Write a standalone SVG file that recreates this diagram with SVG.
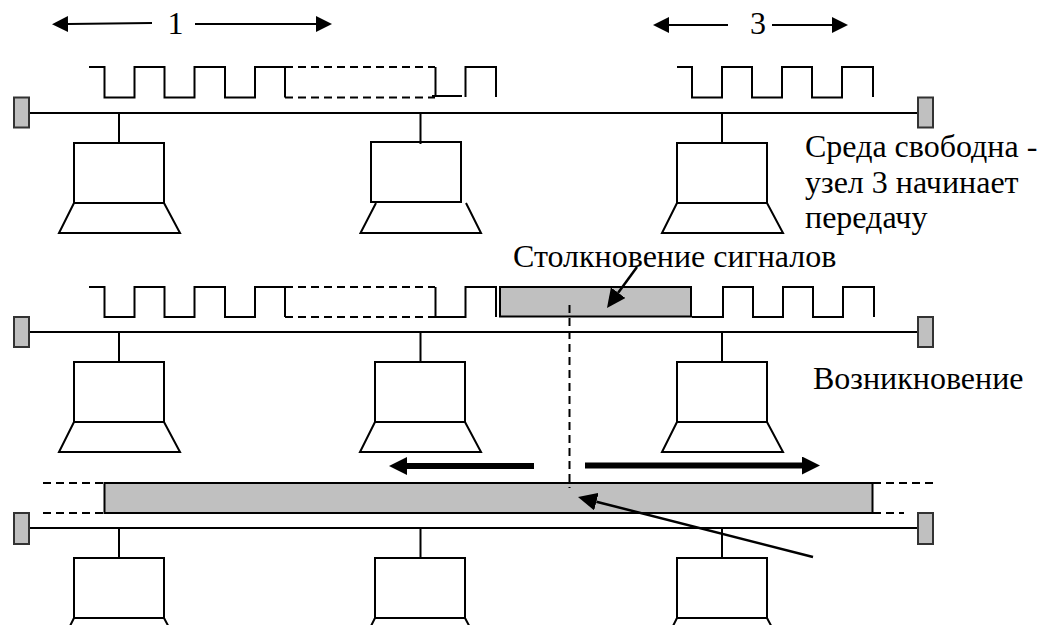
<svg xmlns="http://www.w3.org/2000/svg" width="1043" height="625" viewBox="0 0 1043 625">
<style>
.l{fill:none;stroke:#000;stroke-width:2}
.p{fill:none;stroke:#000;stroke-width:2.500}
.d{fill:none;stroke:#000;stroke-width:2;stroke-dasharray:8 5}
.n{fill:#fff;stroke:#000;stroke-width:2}
.t{fill:#c0c0c0;stroke:#333;stroke-width:2}
.g{fill:#c0c0c0;stroke:#000;stroke-width:2}
.b{fill:none;stroke:#000;stroke-width:6}
text{font-family:"Liberation Serif","Times New Roman",serif;font-size:32px;fill:#000}
</style>
<defs>
<marker id="ah" markerUnits="userSpaceOnUse" markerWidth="17" markerHeight="18" refX="0" refY="8" orient="auto"><path d="M0 0L16 8L0 16z"/></marker>
<marker id="ahp" markerUnits="userSpaceOnUse" markerWidth="20" markerHeight="18" refX="0" refY="9" orient="auto"><path d="M0 0L19 9L0 18z"/></marker>
<marker id="ahb" markerUnits="userSpaceOnUse" markerWidth="18" markerHeight="18" refX="0" refY="9" orient="auto"><path d="M0 0L18 9L0 18z"/></marker>
<g id="laptop"><rect class="n" x="74" y="0" width="90" height="60"/><path class="l" d="M74 60L59 90H180L164 60"/></g>
</defs>
<g id="signal-1">
<path class="l" d="M89 67H104.500V97.500H134.500V67H164.500V97.500H194.500V67H225V97.500H255V67H285V97.500"/>
<path class="d" d="M285 67H435M285 97.500H435"/>
<path class="l" d="M435.500 67V97M432 96H462M465.500 97V67H496V97"/>
</g>
<g id="signal-3"><path class="l" d="M677 67H692V97.500H722V67H752V97.500H782V67H812V97.500H842V67H873V97"/></g>
<g id="signal-2">
<path class="l" d="M89 287H104.500V317H134.500V287H164.500V317H194.500V287H225V317H255V287H285V317"/>
<path class="d" d="M285 287H435M285 317H435"/>
<path class="l" d="M435.500 287V317H465.500V287H496V317"/>
<path class="l" d="M692 317H723V287H753V317H783V287H813V317H843V287H874V317"/>
</g>
<g id="collision"><rect class="g" x="500" y="287" width="191" height="29.500"/><path class="l" d="M691 286V317"/></g>
<g id="signal-bar">
<path class="d" d="M43 483H104M43 513H104M873 483H934M873 513H904"/>
<rect class="g" x="104.500" y="483" width="768" height="30"/>
</g>
<g id="node-1a"><use href="#laptop" y="143"/></g>
<g id="node-2a"><rect class="n" x="371" y="142" width="90" height="60"/><path class="l" d="M376 203L360.500 233H481L466 203"/></g>
<g id="node-3a"><use href="#laptop" x="603" y="143"/></g>
<g id="node-1b"><use href="#laptop" y="362"/></g>
<g id="node-2b"><use href="#laptop" x="301" y="362"/></g>
<g id="node-3b"><use href="#laptop" x="603" y="362"/></g>
<g id="node-1c"><use href="#laptop" y="558"/></g>
<g id="node-2c"><use href="#laptop" x="301" y="558"/></g>
<g id="node-3c"><use href="#laptop" x="603" y="558"/></g>
<g id="labels">
<text x="167.500" y="34">1</text><text x="750" y="34">3</text>
<text x="805" y="157">Среда свободна -</text>
<text x="805" y="193">узел 3 начинает</text>
<text x="805" y="228">передачу</text>
<text x="513" y="267">Столкновение сигналов</text>
<text x="813" y="389">Возникновение</text>
</g>
<g id="connectors">
<path class="l" d="M29 113H917M29 332H917M29 528H917M119 113V143M420.500 113V144M722 113V143M119 332V362M420.500 332V362M722 332V362M119 528V558M420.500 528V558M722 528V558"/>
<path class="l" d="M152 23L68 24" marker-end="url(#ah)"/><path class="l" d="M195 24H316" marker-end="url(#ah)"/>
<path class="l" d="M728 25H669" marker-end="url(#ah)"/><path class="l" d="M772 25H832" marker-end="url(#ah)"/>
<path class="b" d="M534 466H407" marker-end="url(#ahb)"/><path class="b" d="M585 465.500H802" marker-end="url(#ahb)"/>
<path class="p" d="M637 267L618.200 292.700" marker-end="url(#ahp)"/>
<path class="p" d="M813 557L596.400 501.700" marker-end="url(#ahp)"/>
<path class="d" d="M569.500 305V488" stroke-dasharray="7 6"/>
<path class="l" d="M496 286V317"/>
</g>
<g id="terminators">
<rect class="t" x="14" y="97.500" width="15" height="30"/><rect class="t" x="918" y="97.500" width="15" height="30"/>
<rect class="t" x="14" y="317" width="15" height="30"/><rect class="t" x="918" y="317" width="15" height="30"/>
<rect class="t" x="14" y="513" width="15" height="31"/><rect class="t" x="918" y="513" width="15" height="31"/>
</g>
</svg>
